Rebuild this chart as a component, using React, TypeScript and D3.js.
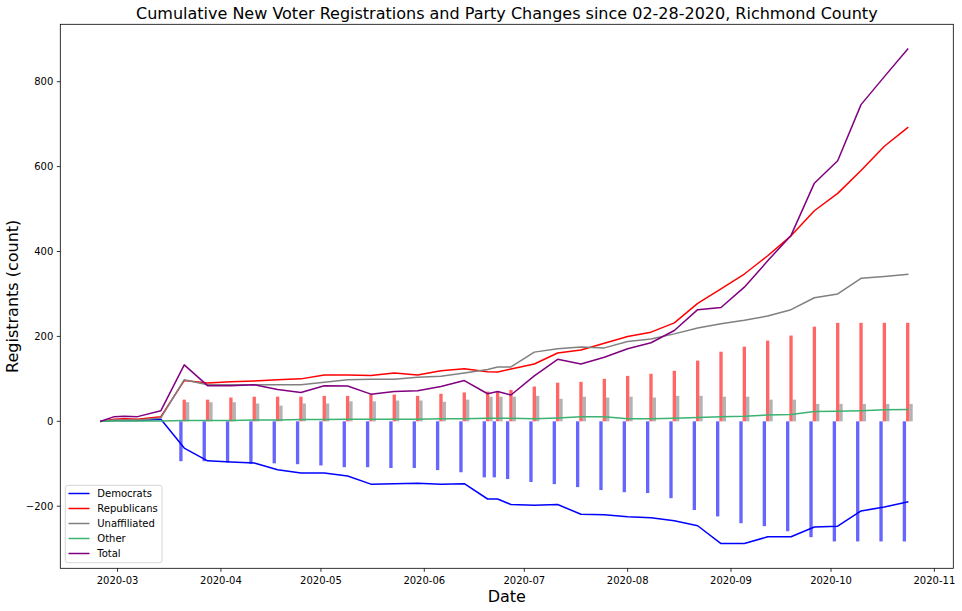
import React from 'react';
import * as d3 from 'd3';

const dates = ['2020-02-25','2020-02-29','2020-03-03','2020-03-07','2020-03-14','2020-03-21','2020-03-28','2020-04-04','2020-04-11','2020-04-18','2020-04-25','2020-05-02','2020-05-09','2020-05-16','2020-05-23','2020-05-30','2020-06-06','2020-06-13','2020-06-20','2020-06-23','2020-06-27','2020-07-04','2020-07-11','2020-07-18','2020-07-25','2020-08-01','2020-08-08','2020-08-15','2020-08-22','2020-08-29','2020-09-05','2020-09-12','2020-09-19','2020-09-26','2020-10-03','2020-10-10','2020-10-17','2020-10-24'];

const democrats = [0, 2, 2, 2, 5, -63, -93, -96, -98, -114, -122, -122, -129, -148, -147, -146, -148, -147, -183, -183, -196, -198, -196, -219, -220, -225, -227, -234, -246, -288, -288, -272, -272, -249, -247, -211, -202, -190];
const republicans = [0, 5, 6, 5, 11, 96, 90, 93, 95, 98, 100, 109, 109, 108, 114, 109, 119, 124, 117, 116, 123, 135, 161, 168, 184, 200, 210, 232, 278, 312, 347, 390, 437, 496, 537, 591, 648, 692];
const unaffiliated = [0, 3, 3, 3, 8, 98, 86, 86, 86, 86, 86, 92, 98, 99, 99, 104, 106, 114, 122, 128, 128, 163, 171, 175, 173, 188, 194, 206, 220, 230, 238, 248, 263, 291, 300, 337, 341, 346];
const other = [0, 1, 1, 1, 1, 2, 2, 2, 3, 3, 4, 4, 5, 5, 5, 5, 6, 6, 7, 7, 7, 6, 8, 11, 11, 6, 6, 7, 9, 11, 12, 15, 16, 23, 24, 25, 27, 28];
const total = [0, 11, 12, 11, 25, 133, 84, 84, 86, 75, 68, 84, 83, 64, 70, 72, 82, 96, 65, 70, 62, 107, 146, 135, 151, 171, 185, 214, 263, 268, 316, 378, 438, 561, 614, 746, 812, 877];

const barDates = ['2020-03-21','2020-03-28','2020-04-04','2020-04-11','2020-04-18','2020-04-25','2020-05-02','2020-05-09','2020-05-16','2020-05-23','2020-05-30','2020-06-06','2020-06-13','2020-06-20','2020-06-23','2020-06-27','2020-07-04','2020-07-11','2020-07-18','2020-07-25','2020-08-01','2020-08-08','2020-08-15','2020-08-22','2020-08-29','2020-09-05','2020-09-12','2020-09-19','2020-09-26','2020-10-03','2020-10-10','2020-10-17','2020-10-24'];
const demBars = [-94, -94, -97, -100, -99, -101, -104, -108, -108, -110, -110, -115, -120, -132, -132, -136, -143, -148, -155, -162, -167, -169, -181, -209, -224, -240, -247, -259, -273, -283, -283, -283, -283];
const repBars = [51, 51, 56, 58, 58, 58, 60, 60, 64, 63, 60, 65, 68, 70, 70, 74, 82, 91, 93, 100, 107, 112, 119, 143, 164, 176, 190, 202, 223, 232, 232, 232, 232];
const unaffBars = [45, 45, 45, 42, 37, 42, 42, 47, 47, 49, 49, 46, 51, 58, 58, 58, 60, 53, 58, 56, 58, 56, 60, 60, 58, 58, 51, 51, 41, 41, 41, 41, 41];

const seriesNames = ['Democrats', 'Republicans', 'Unaffiliated', 'Other', 'Total'];
const seriesColors = ['#0000ff', '#ff0000', '#808080', '#3cb371', '#800080'];

const TITLE = 'Cumulative New Voter Registrations and Party Changes since 02-28-2020, Richmond County';
const W = 962, H = 611;
const M = { left: 60.3, right: 953.3, top: 24.3, bottom: 568.3 };
const FONT = '"DejaVu Sans", sans-serif';
const DAY = 86400000;

export default function App() {
  const parse = (s: string) => new Date(s + 'T00:00:00Z');
  const xs = dates.map(parse);
  const bxs = barDates.map(parse);

  const xMin = +xs[0];
  const xMax = +bxs[bxs.length - 1] + 1.5 * DAY;
  const xPad = (xMax - xMin) * 0.05;
  const x = d3.scaleUtc().domain([new Date(xMin - xPad), new Date(xMax + xPad)]).range([M.left, M.right]);

  const allVals = [...democrats, ...republicans, ...unaffiliated, ...other, ...total, ...demBars, ...repBars, ...unaffBars, 0];
  const yLo = d3.min(allVals) as number, yHi = d3.max(allVals) as number;
  const yPad = (yHi - yLo) * 0.05;
  const y = d3.scaleLinear().domain([yLo - yPad, yHi + yPad]).range([M.bottom, M.top]);

  const series = [democrats, republicans, unaffiliated, other, total];
  const line = d3.line<number>().x((_, i) => x(xs[i])).y(d => y(d));

  const xTicks = x.ticks(d3.utcMonth.every(1) as any);
  const fmt = d3.utcFormat('%Y-%m');
  const yTicks = [-200, 0, 200, 400, 600, 800];

  const bw = x(new Date(+bxs[0] + DAY)) - x(bxs[0]);
  const barGroups = [
    { vals: demBars, off: -1, color: '#0000ff' },
    { vals: repBars, off: 0, color: '#ff0000' },
    { vals: unaffBars, off: 1, color: '#808080' },
  ];

  return (
    <svg width={W} height={H} style={{ position: 'absolute', left: 0, top: 0, background: '#fff' }} fontFamily={FONT}>
      <rect x={0} y={0} width={W} height={H} fill="#fff" />
      {barGroups.map((g, gi) => (
        <g key={gi} fill={g.color} fillOpacity={0.6}>
          {g.vals.map((v, i) => {
            const cx = x(new Date(+bxs[i] + g.off * DAY));
            const y0 = y(0), y1 = y(v);
            return <rect key={i} x={cx - bw / 2} width={bw} y={Math.min(y0, y1)} height={Math.abs(y1 - y0)} />;
          })}
        </g>
      ))}
      {series.map((s, i) => (
        <path key={i} d={line(s) || ''} fill="none" stroke={seriesColors[i]} strokeWidth={1.5} strokeLinejoin="round" strokeLinecap="square" />
      ))}
      <rect x={M.left} y={M.top} width={M.right - M.left} height={M.bottom - M.top} fill="none" stroke="#000" strokeWidth={0.8} />
      {xTicks.map((t, i) => (
        <g key={i} transform={`translate(${x(t)},${M.bottom})`}>
          <line y2={3.5} stroke="#000" strokeWidth={0.8} />
          <text y={15.5} textAnchor="middle" fontSize={10} fill="#000">{fmt(t)}</text>
        </g>
      ))}
      {yTicks.map((t, i) => (
        <g key={i} transform={`translate(${M.left},${y(t)})`}>
          <line x2={-3.5} stroke="#000" strokeWidth={0.8} />
          <text x={-7} dy="0.35em" textAnchor="end" fontSize={10} fill="#000">{t === 0 ? '0' : (t < 0 ? '\u2212' + Math.abs(t) : String(t))}</text>
        </g>
      ))}
      <text x={(M.left + M.right) / 2} y={19} textAnchor="middle" fontSize={16} fill="#000">{TITLE}</text>
      <text x={(M.left + M.right) / 2} y={602} textAnchor="middle" fontSize={16} fill="#000">Date</text>
      <text transform={`translate(18,${(M.top + M.bottom) / 2}) rotate(-90)`} textAnchor="middle" fontSize={16} fill="#000">Registrants (count)</text>
      <g>
        <rect x={65.3} y={485.3} width={96.7} height={77.4} rx={2.5} fill="#fff" fillOpacity={0.8} stroke="#cccccc" strokeWidth={0.8} />
        {seriesNames.map((n, i) => {
          const cy = 493.5 + i * 15;
          return (
            <g key={i}>
              <line x1={68.5} x2={89.5} y1={cy} y2={cy} stroke={seriesColors[i]} strokeWidth={1.5} />
              <text x={97.3} y={cy} dy="0.35em" fontSize={10} fill="#000">{n}</text>
            </g>
          );
        })}
      </g>
    </svg>
  );
}
